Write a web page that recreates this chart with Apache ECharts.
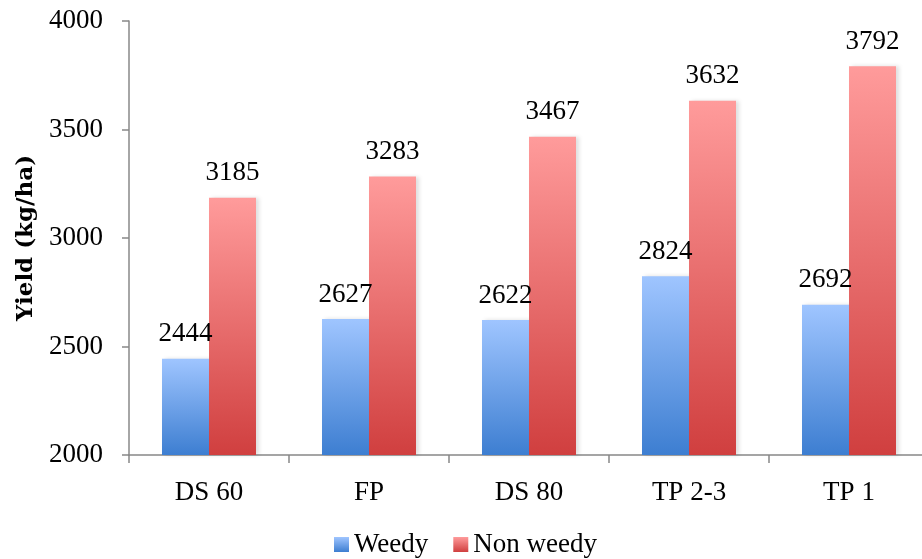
<!DOCTYPE html>
<html>
<head>
<meta charset="utf-8">
<script src="https://cdn.jsdelivr.net/npm/echarts@6/dist/echarts.min.js"></script>
<style>
  html, body { margin: 0; padding: 0; background: #fff; }
  #chart { width: 922px; height: 559px; }
</style>
</head>
<body>
<div id="chart"></div>
<script>
// categories and yields (kg/ha)
const categories = ['DS 60', 'FP', 'DS 80', 'TP 2-3', 'TP 1']
const weedy = [2444, 2627, 2622, 2824, 2692]
const nonWeedy = [3185, 3283, 3467, 3632, 3792]
const seriesNames = ['Weedy', 'Non weedy']

const serif = 'Liberation Serif'

const blueGrad = new echarts.graphic.LinearGradient(0, 0, 0, 1, [
  { offset: 0, color: '#9fc5ff' },
  { offset: 1, color: '#3d7ed1' },
])
const redGrad = new echarts.graphic.LinearGradient(0, 0, 0, 1, [
  { offset: 0, color: '#ff9b9b' },
  { offset: 1, color: '#d03f3f' },
])

const barStyle = (color) => ({
  color: color,
  shadowColor: 'rgba(0,0,0,0.13)',
  shadowBlur: 4,
  shadowOffsetX: 3,
})

const labelStyle = {
  show: true,
  position: 'top',
  distance: 11,
  fontFamily: serif,
  fontSize: 27,
  color: '#000',
}

const chart = echarts.init(document.getElementById('chart'))
chart.setOption({
  animation: false,
  grid: { left: 129, top: 21, width: 800, height: 434, outerBoundsMode: 'none', containLabel: false },
  legend: {
    data: seriesNames,
    left: 334,
    top: 531,
    padding: 0,
    itemWidth: 15,
    itemHeight: 15,
    itemGap: 25,
    icon: 'rect',
    textStyle: { fontFamily: serif, fontSize: 27, color: '#000' },
  },
  xAxis: {
    type: 'category',
    data: categories,
    axisLine: { lineStyle: { color: '#888', width: 1.5 } },
    axisTick: { show: true, length: 8, lineStyle: { color: '#888', width: 1.5 } },
    axisLabel: { fontFamily: serif, fontSize: 27, color: '#000', margin: 24 },
  },
  yAxis: {
    type: 'value',
    min: 2000,
    max: 4000,
    interval: 500,
    name: 'Yield (kg/ha)',
    nameLocation: 'middle',
    nameGap: 91,
    nameTextStyle: { fontFamily: 'DejaVu Serif', fontWeight: 'bold', fontSize: 23, color: '#000' },
    axisLine: { show: true, lineStyle: { color: '#888', width: 1.5 } },
    axisTick: { show: true, length: 7, lineStyle: { color: '#888', width: 1.5 } },
    splitLine: { show: false },
    axisLabel: {
      fontFamily: serif,
      fontSize: 27,
      color: '#000',
      margin: 26,
      formatter: (v) => String(v),
    },
  },
  series: [
    {
      name: seriesNames[0],
      type: 'bar',
      data: weedy,
      barWidth: 47,
      barGap: '0%',
      itemStyle: barStyle(blueGrad),
      label: labelStyle,
    },
    {
      name: seriesNames[1],
      type: 'bar',
      data: nonWeedy,
      barWidth: 47,
      barGap: '0%',
      itemStyle: barStyle(redGrad),
      label: labelStyle,
    },
  ],
})
</script>
</body>
</html>
